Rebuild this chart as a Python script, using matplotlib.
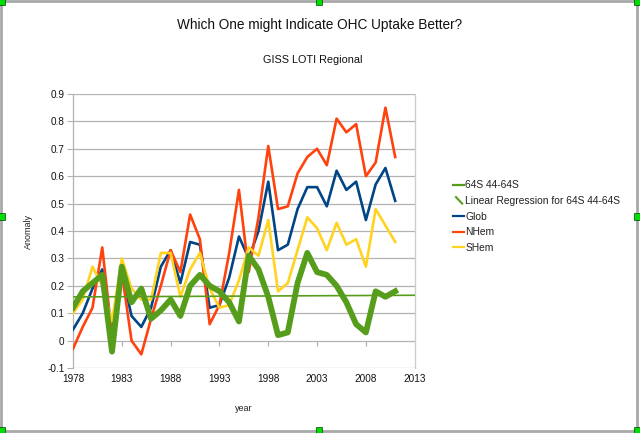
import numpy as np
import matplotlib.pyplot as plt
from matplotlib.lines import Line2D
from matplotlib.legend_handler import HandlerLine2D
from matplotlib.patches import Rectangle

plt.rcParams['font.family'] = ['Liberation Sans', 'DejaVu Sans']

# data
years = list(range(1978, 2012))
band_64s_44s = [0.12, 0.18, 0.21, 0.24, -0.04, 0.27, 0.14, 0.19, 0.08, 0.11,
                0.15, 0.09, 0.20, 0.24, 0.20, 0.18, 0.14, 0.07, 0.31, 0.26,
                0.16, 0.02, 0.03, 0.21, 0.32, 0.25, 0.24, 0.20, 0.14, 0.06,
                0.03, 0.18, 0.16, 0.18]
glob = [0.04, 0.10, 0.19, 0.26, 0.04, 0.25, 0.09, 0.05, 0.12, 0.27,
        0.33, 0.21, 0.36, 0.35, 0.12, 0.13, 0.23, 0.38, 0.30, 0.40,
        0.58, 0.33, 0.35, 0.48, 0.56, 0.56, 0.49, 0.62, 0.55, 0.58,
        0.44, 0.57, 0.63, 0.51]
nhem = [-0.03, 0.05, 0.12, 0.34, 0.02, 0.25, 0.00, -0.05, 0.08, 0.20,
        0.33, 0.25, 0.46, 0.37, 0.06, 0.13, 0.32, 0.55, 0.25, 0.45,
        0.71, 0.48, 0.49, 0.61, 0.67, 0.70, 0.64, 0.81, 0.76, 0.79,
        0.60, 0.65, 0.85, 0.67]
shem = [0.10, 0.15, 0.27, 0.20, 0.07, 0.30, 0.19, 0.15, 0.15, 0.32,
        0.32, 0.16, 0.26, 0.32, 0.19, 0.12, 0.13, 0.22, 0.34, 0.31,
        0.44, 0.18, 0.21, 0.33, 0.45, 0.41, 0.33, 0.43, 0.35, 0.37,
        0.27, 0.48, 0.42, 0.36]

x_ticks = list(range(1978, 2014, 5))
y_ticks = [round(-0.1 + 0.1 * i, 1) for i in range(11)]

green = '#579d1c'
blue = '#004586'
red = '#ff420e'
yellow = '#ffd320'
grid_grey = '#b3b3b3'


class HandlerDiag(HandlerLine2D):
    # diagonal legend key like the trend line key in the original
    def create_artists(self, legend, orig_handle, xdescent, ydescent,
                       width, height, fontsize, trans):
        line = Line2D([-xdescent + width * 0.25, -xdescent + width * 0.85],
                      [-ydescent + height * 0.95, -ydescent + height * 0.05],
                      color=orig_handle.get_color(), lw=1.5, transform=trans)
        return [line]


fig = plt.figure(figsize=(6.4, 4.33), dpi=100)
ax = fig.add_axes([0.114, 0.150, 0.534, 0.633])

# linear regression of the band series, spread over the axis range
coef = np.polyfit(years, band_64s_44s, 1)
reg_x = np.array([x_ticks[0], x_ticks[-1]])
reg_y = np.polyval(coef, reg_x)

ax.plot(years, glob, color=blue, lw=1.9, zorder=3)
ax.plot(years, nhem, color=red, lw=1.9, zorder=3)
ax.plot(years, shem, color=yellow, lw=1.9, zorder=3)
ax.plot(reg_x, reg_y, color=green, lw=1.2, zorder=4)
ax.plot(years, band_64s_44s, color=green, lw=4.2, zorder=5,
        solid_joinstyle='round')

ax.set_xlim(x_ticks[0], x_ticks[-1])
ax.set_ylim(y_ticks[0], y_ticks[-1])
ax.set_xticks(x_ticks)
ax.set_yticks(y_ticks)
ax.set_yticklabels(['%g' % v for v in y_ticks])
ax.yaxis.grid(True, color=grid_grey, lw=0.9)
ax.set_axisbelow(True)

for s in ['top', 'bottom']:
    ax.spines[s].set_visible(False)
ax.spines['left'].set_color(grid_grey)
ax.spines['right'].set_color('#cccccc')
ax.spines['left'].set_linewidth(0.9)
ax.spines['right'].set_linewidth(0.9)

ax.tick_params(axis='y', length=4, color=grid_grey, labelsize=7.2,
               labelcolor='#111111', pad=2)
ax.tick_params(axis='x', length=0, labelsize=7.2, labelcolor='#111111', pad=4)
# small x ticks sitting under the zero line
ax.vlines(x_ticks[1:-1], -0.02, 0, color=grid_grey, lw=0.9, zorder=1)

ax.set_ylabel('Anomaly', fontsize=6.5, color='#222222', labelpad=10)
ax.set_xlabel('year', fontsize=6.5, color='#222222', labelpad=15)

fig.text(0.499, 0.942, 'Which One might Indicate OHC Uptake Better?',
         ha='center', va='center', fontsize=9.8, color='#111111')
fig.text(0.489, 0.861, 'GISS LOTI Regional', ha='center', va='center',
         fontsize=7.8, color='#111111')

handles = [Line2D([], [], color=green, lw=1.6),
           Line2D([], [], color=green, lw=1.5),
           Line2D([], [], color=blue, lw=1.6),
           Line2D([], [], color=red, lw=1.6),
           Line2D([], [], color=yellow, lw=1.6)]
labels = ['64S 44-64S', 'Linear Regression for 64S 44-64S', 'Glob', 'NHem',
          'SHem']
leg = fig.legend(handles, labels, loc='upper left',
                 bbox_to_anchor=(0.694, 0.605), frameon=False, fontsize=7.4,
                 handlelength=1.0, handletextpad=0.15, labelspacing=0.55,
                 handler_map={handles[1]: HandlerDiag()})
for t in leg.get_texts():
    t.set_color('#222222')

# frame and green handles from the edit-mode screenshot
fig.patches.append(Rectangle((0.002, 0.004), 0.993, 0.994,
                             transform=fig.transFigure, fill=False,
                             edgecolor='#a8a8a8', lw=2))
for hx, hy in [(0.003, 0.996), (0.498, 0.996), (0.996, 0.996),
               (0.003, 0.500), (0.996, 0.500),
               (0.003, 0.006), (0.498, 0.006), (0.996, 0.006)]:
    fig.patches.append(Rectangle((hx - 0.005, hy - 0.007), 0.01, 0.014,
                                 transform=fig.transFigure,
                                 facecolor='#00dd00', edgecolor='#004400',
                                 lw=0.5))

fig.savefig('out.png', dpi=100)
